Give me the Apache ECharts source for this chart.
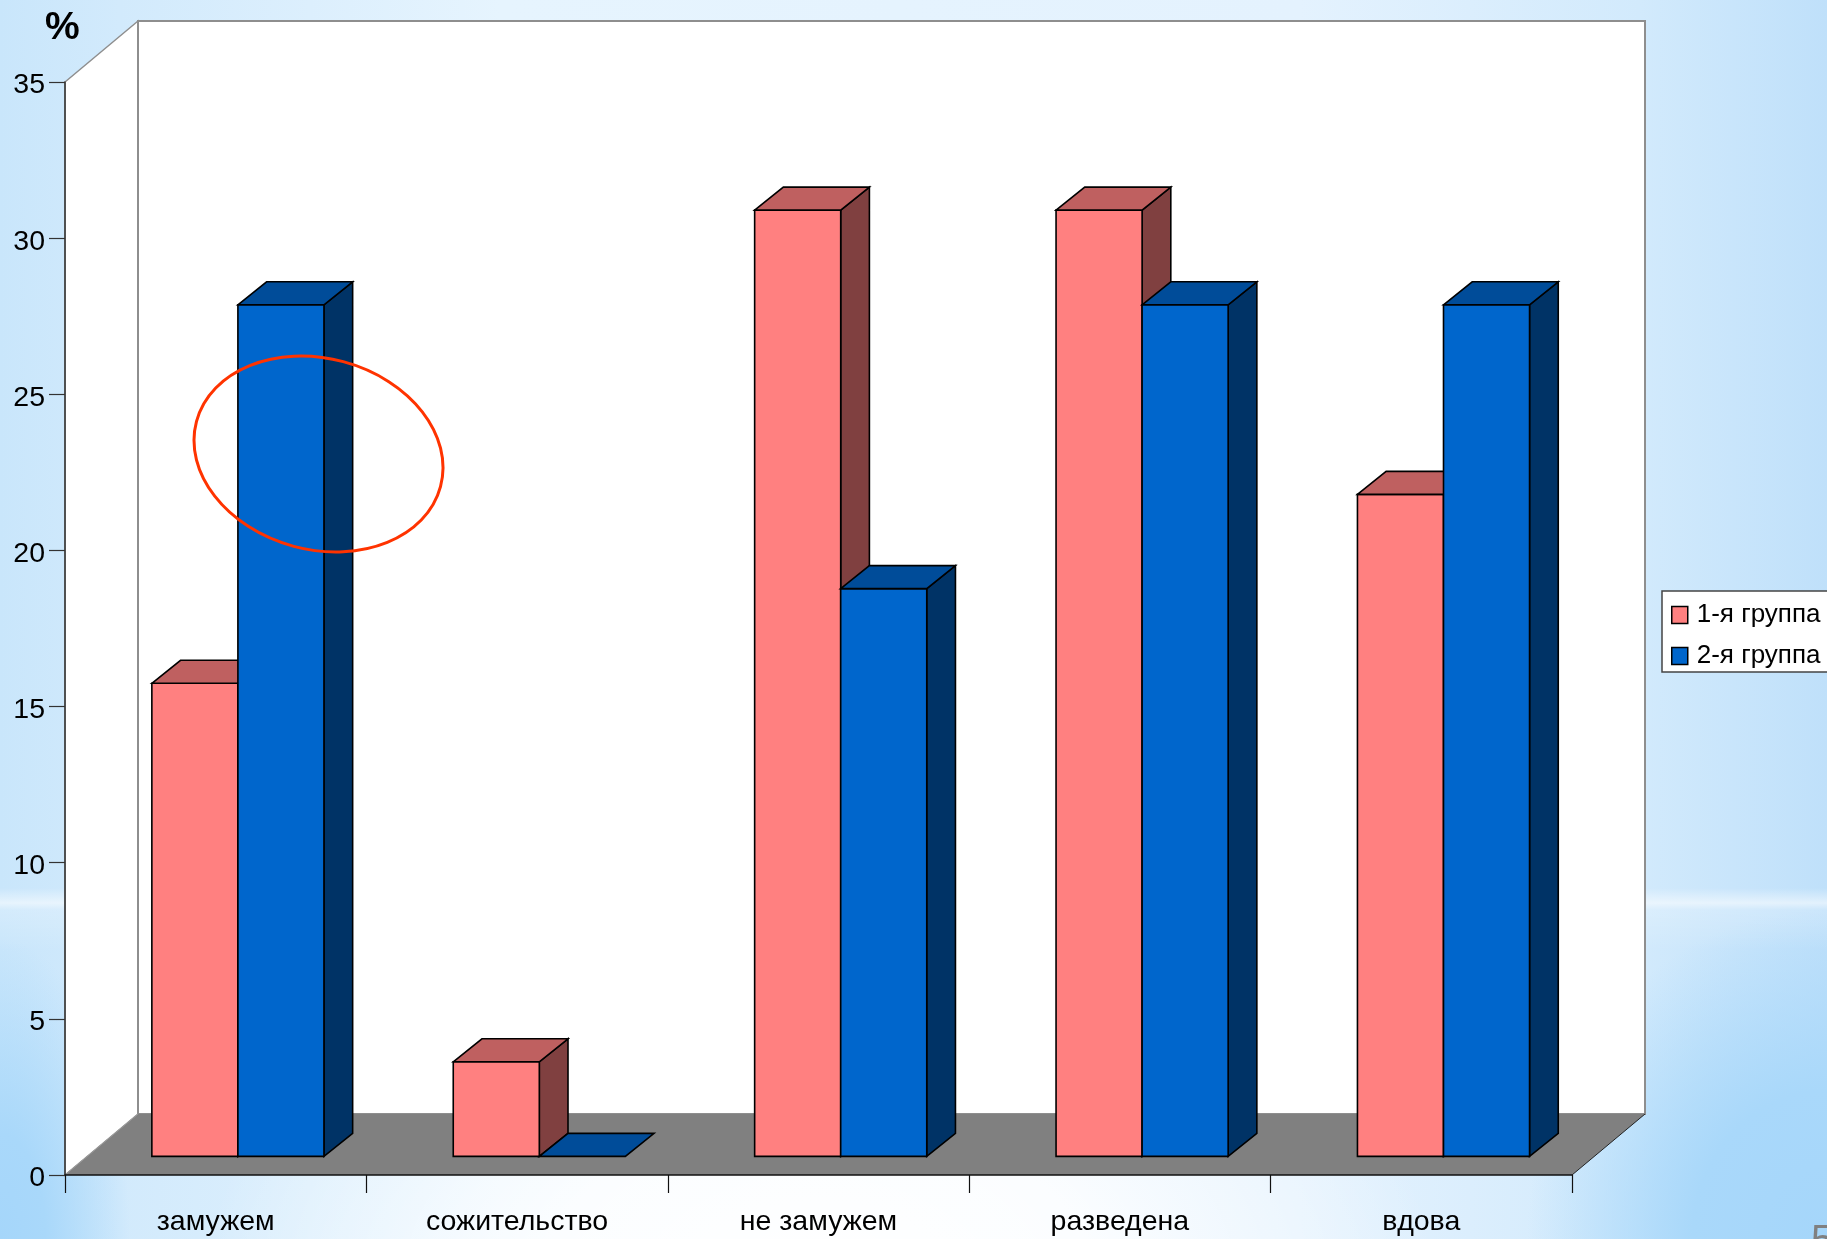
<!DOCTYPE html>
<html>
<head>
<meta charset="utf-8">
<style>
html,body{margin:0;padding:0;width:1827px;height:1239px;overflow:hidden;}
body{background:
 linear-gradient(180deg,rgba(255,255,255,0) 0,rgba(255,255,255,0) 888px,rgba(255,255,255,.55) 903px,rgba(255,255,255,.2) 910px,rgba(255,255,255,0) 950px),
 radial-gradient(ellipse 620px 420px at 820px 1300px,#ffffff 0,rgba(255,255,255,.85) 45%,rgba(255,255,255,0) 100%),
 radial-gradient(ellipse 300px 330px at 1827px 1239px,#a5d6fa 0,#a9d8fa 45%,rgba(169,216,250,0) 100%),
 radial-gradient(ellipse 130px 300px at 0 1239px,#a5d6fa 0,#a9d8fa 35%,rgba(169,216,250,0) 100%),
 linear-gradient(90deg,#c9e6fb 0,#d2eafc 120px,#e6f4fe 500px,#e4f2fe 1300px,#d2eafc 1640px,#bfe0fa 1827px);
}
#chart{width:1827px;height:1239px;}
</style>
<script src="https://cdn.jsdelivr.net/npm/echarts@6/dist/echarts.min.js"></script>
</head>
<body>
<div id="chart"></div>
<script>
const categories = ['замужем', 'сожительство', 'не замужем', 'разведена', 'вдова'];
const group1 = [15.15, 3.03, 30.3, 30.3, 21.2];
const group2 = [27.27, 0, 18.18, 27.27, 27.27];
const seriesNames = ['1-я группа', '2-я группа'];

const FONT = '"Liberation Sans", Arial, sans-serif';
const wallD = {dx: 73, dy: 61};
const gap = {dx: 22.2, dy: 18.6};
const barD = {dx: 28.7, dy: 23};
const barRatio = 0.2855;

function poly(points, fill, stroke, lw) {
  return {type: 'polygon', shape: {points}, style: {fill, stroke: stroke || 'none', lineWidth: lw || 0, lineJoin: 'miter'}};
}
function renderWalls(params, api) {
  const c = params.coordSys, l = c.x, t = c.y, r = c.x + c.width, b = c.y + c.height;
  const dx = wallD.dx, dy = wallD.dy, g = '#8e8e8e';
  return {type: 'group', children: [
    poly([[l, t], [l + dx, t - dy], [l + dx, b - dy], [l, b]], '#ffffff', g, 1.5),
    poly([[l + dx, t - dy], [r + dx, t - dy], [r + dx, b - dy], [l + dx, b - dy]], '#ffffff', g, 2),
    poly([[l, b], [l + dx, b - dy], [r + dx, b - dy], [r, b]], '#808080'),
    {type: 'line', shape: {x1: r, y1: b, x2: r + dx, y2: b - dy}, style: {stroke: '#222222', lineWidth: 1}},
    {type: 'line', shape: {x1: l, y1: b, x2: l + dx, y2: b - dy}, style: {stroke: '#9a9a9a', lineWidth: 1}}
  ]};
}
function boxRenderer(side, cols) {
  return function (params, api) {
    const band = api.size([1, 0])[0];
    const w = band * barRatio;
    const p = api.coord([api.value(0), api.value(1)]);
    const base = api.coord([api.value(0), 0]);
    const x0 = base[0] + gap.dx + (side === 0 ? -w : 0), x1 = x0 + w;
    const yB = base[1] - gap.dy, yT = p[1] - gap.dy;
    const dx = barD.dx, dy = barD.dy, s = '#000000', lw = 1.6;
    const ch = [];
    if (yB - yT > 0.5) {
      ch.push(poly([[x1, yT], [x1 + dx, yT - dy], [x1 + dx, yB - dy], [x1, yB]], cols.side, s, lw));
      ch.push(poly([[x0, yT], [x1, yT], [x1, yB], [x0, yB]], cols.front, s, lw));
    }
    ch.push(poly([[x0, yT], [x0 + dx, yT - dy], [x1 + dx, yT - dy], [x1, yT]], cols.top, s, lw));
    return {type: 'group', children: ch};
  };
}

const chart = echarts.init(document.getElementById('chart'), null, {renderer: 'canvas', width: 1827, height: 1239});
chart.setOption({
  backgroundColor: 'transparent',
  animation: false,
  grid: {left: 65, top: 82, width: 1507, height: 1093},
  legend: {
    data: seriesNames, left: 1662, top: 591, orient: 'vertical', icon: 'rect',
    itemWidth: 16, itemHeight: 17, itemGap: 15,
    padding: [11, 60, 3, 9],
    backgroundColor: '#ffffff', borderColor: '#444444', borderWidth: 1.5,
    itemStyle: {borderColor: '#000000', borderWidth: 1.5},
    textStyle: {color: '#000000', fontFamily: FONT, fontSize: 26, padding: [0, 0, 0, 4]},
    selectedMode: false
  },
  xAxis: {
    type: 'category', data: categories, z: 5,
    axisLine: {lineStyle: {color: '#111111', width: 1.5}},
    axisTick: {show: true, alignWithLabel: false, length: 18, lineStyle: {color: '#111111', width: 1.2}},
    axisLabel: {color: '#000000', fontFamily: FONT, fontSize: 28.5, margin: 33}
  },
  yAxis: {
    type: 'value', min: 0, max: 35, interval: 5, z: 5,
    axisLine: {show: true, lineStyle: {color: '#333333', width: 1.5}},
    axisTick: {show: true, length: 16, lineStyle: {color: '#333333', width: 1.2}},
    axisLabel: {
      color: '#000000', fontFamily: FONT, fontSize: 28.5, margin: 20,
      formatter: '{n|{value}}',
      rich: {n: {color: '#000000', fontFamily: FONT, fontSize: 28.5, padding: [7, 0, 0, 0]}}
    },
    splitLine: {show: false}
  },
  series: [
    {type: 'custom', name: 'walls', silent: true, clip: false, z: 1, renderItem: renderWalls, data: [[0, 0]], encode: {x: 0, y: 1}},
    {type: 'custom', name: seriesNames[0], clip: false, z: 2, itemStyle: {color: '#FF8080'},
     renderItem: boxRenderer(0, {front: '#FF8080', side: '#804040', top: '#BF6060'}),
     data: group1.map((v, i) => [i, v]), encode: {x: 0, y: 1}},
    {type: 'custom', name: seriesNames[1], clip: false, z: 3, itemStyle: {color: '#0066CC'},
     renderItem: boxRenderer(1, {front: '#0066CC', side: '#003366', top: '#004C99'}),
     data: group2.map((v, i) => [i, v]), encode: {x: 0, y: 1}}
  ],
  graphic: [
    {type: 'ellipse', z: 50, x: 318.5, y: 454, rotation: -15 * Math.PI / 180,
     shape: {cx: 0, cy: 0, rx: 126.3, ry: 95.6},
     style: {fill: 'none', stroke: '#FF3300', lineWidth: 3}},
    {type: 'text', z: 50, left: 45, top: 9,
     style: {text: '%', fill: '#000000', font: 'bold 39px ' + FONT}},
    {type: 'text', z: 50, left: 1811, top: 1222,
     style: {text: '5', fill: '#808080', font: '40px ' + FONT}}
  ]
});
</script>
</body>
</html>
